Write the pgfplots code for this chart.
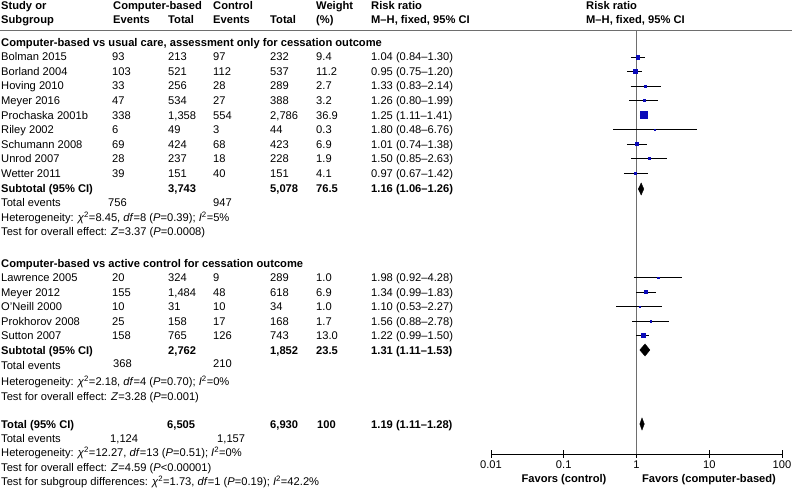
\documentclass[border=0pt]{standalone}
\usepackage{pgfplots}
\pgfplotsset{compat=1.18}
\usepackage{fontspec}
\setmainfont{Liberation Sans}
\definecolor{sqblue}{RGB}{10,10,185}
\definecolor{lgray}{RGB}{110,110,110}
\newcommand\T[3]{\node[anchor=base west,inner sep=0pt] at ({#1*1bp},{(489-#2)*1bp}) {#3};}
\newcommand\B[3]{\node[anchor=base west,inner sep=0pt,font=\fontsize{11.2}{13.5}\selectfont\bfseries] at ({#1*1bp},{(489-#2)*1bp}) {#3};}
\newcommand\het[4]{Heterogeneity: \textit{χ}\textsuperscript{2}=#1, \textit{df}=#2 (\textit{P}=#3); \textit{I}\textsuperscript{2}=#4}
\begin{document}
\begin{tikzpicture}[font=\fontsize{11.2}{13.5}\selectfont]
\path[use as bounding box] (0,0) rectangle (792bp,493bp);
\draw[lgray, line width=0.8pt] (0,463bp) -- (792bp,463bp);
\begin{axis}[at={(491bp,39bp)}, anchor=south west, scale only axis, width=291bp, height=424bp,
 xmode=log, log basis x=10, xmin=0.01, xmax=100, ymin=-454, ymax=-30,
 axis x line*=bottom, axis y line=none, clip=false,
 xtick={0.01,0.1,1,10,100}, xticklabels={0.01,0.1,1,10,100}, xminorticks=false,
 tick align=center, major tick length=7bp,
 tick style={black, line width=0.8pt}, axis line style={black, line width=0.8pt},
 xticklabel style={font=\fontsize{11.2}{13}\selectfont}]
\addplot[lgray, line width=0.9pt] coordinates {(1,-30) (1,-454)};
% CI whiskers
\addplot[black, line width=0.7pt] coordinates {(0.84,-57) (1.30,-57)};
\addplot[black, line width=0.7pt] coordinates {(0.75,-71.5) (1.20,-71.5)};
\addplot[black, line width=0.7pt] coordinates {(0.83,-86) (2.14,-86)};
\addplot[black, line width=0.7pt] coordinates {(0.80,-100.5) (1.99,-100.5)};
\addplot[black, line width=0.7pt] coordinates {(1.11,-115) (1.41,-115)};
\addplot[black, line width=0.7pt] coordinates {(0.48,-129.5) (6.76,-129.5)};
\addplot[black, line width=0.7pt] coordinates {(0.74,-144) (1.38,-144)};
\addplot[black, line width=0.7pt] coordinates {(0.85,-158.5) (2.63,-158.5)};
\addplot[black, line width=0.7pt] coordinates {(0.67,-173) (1.42,-173)};
\addplot[black, line width=0.7pt] coordinates {(0.92,-277.5) (4.28,-277.5)};
\addplot[black, line width=0.7pt] coordinates {(0.99,-292) (1.83,-292)};
\addplot[black, line width=0.7pt] coordinates {(0.53,-306.5) (2.27,-306.5)};
\addplot[black, line width=0.7pt] coordinates {(0.88,-321) (2.78,-321)};
\addplot[black, line width=0.7pt] coordinates {(0.99,-335.5) (1.50,-335.5)};
% squares (weight-scaled)
\addplot[scatter, only marks, mark=square*,
  scatter/use mapped color={draw=sqblue, fill=sqblue},
  visualization depends on={\thisrow{s} \as \msize},
  scatter/@pre marker code/.append style={/tikz/mark size=\msize}]
 table[x=rr, y=y] {
rr y s
1.04 -57 1.75
0.95 -71.5 1.9
1.33 -86 0.95
1.26 -100.5 1.0
1.25 -115 3.5
1.80 -129.5 0.5
1.01 -144 1.5
1.50 -158.5 0.8
0.97 -173 1.15
1.98 -277.5 0.65
1.34 -292 1.5
1.10 -306.5 0.65
1.56 -321 0.75
1.22 -335.5 2.05
};
% diamonds
\addplot[fill=black, draw=black] coordinates {(1.06,-189) (1.16,-183) (1.26,-189) (1.16,-195)} --cycle;
\addplot[fill=black, draw=black] coordinates {(1.11,-350) (1.31,-344) (1.53,-350) (1.31,-356)} --cycle;
\addplot[fill=black, draw=black] coordinates {(1.11,-424) (1.19,-418) (1.28,-424) (1.19,-430)} --cycle;
\end{axis}
% header
\B{1}{5.5}{Study or}\B{1}{20}{Subgroup}
\B{113}{5.5}{Computer-based}\B{113}{20}{Events}\B{168}{20}{Total}
\B{213}{5.5}{Control}\B{213}{20}{Events}\B{270}{20}{Total}
\B{316}{5.5}{Weight}\B{316}{20}{(\%)}
\B{371}{5.5}{Risk ratio}\B{371}{20}{M–H, fixed, 95\% CI}
\B{586}{5.5}{Risk ratio}\B{586}{20}{M–H, fixed, 95\% CI}
% group 1
\B{1}{43}{Computer-based vs usual care, assessment only for cessation outcome}
\T{1}{57}{Bolman 2015}\T{112}{57}{93}\T{168}{57}{213}\T{213}{57}{97}\T{270}{57}{232}\T{316}{57}{9.4}\T{371}{57}{1.04 (0.84–1.30)}
\T{1}{71.5}{Borland 2004}\T{112}{71.5}{103}\T{168}{71.5}{521}\T{213}{71.5}{112}\T{270}{71.5}{537}\T{316}{71.5}{11.2}\T{371}{71.5}{0.95 (0.75–1.20)}
\T{1}{86}{Hoving 2010}\T{112}{86}{33}\T{168}{86}{256}\T{213}{86}{28}\T{270}{86}{289}\T{316}{86}{2.7}\T{371}{86}{1.33 (0.83–2.14)}
\T{1}{100.5}{Meyer 2016}\T{112}{100.5}{47}\T{168}{100.5}{534}\T{213}{100.5}{27}\T{270}{100.5}{388}\T{316}{100.5}{3.2}\T{371}{100.5}{1.26 (0.80–1.99)}
\T{1}{115}{Prochaska 2001b}\T{112}{115}{338}\T{168}{115}{1,358}\T{213}{115}{554}\T{270}{115}{2,786}\T{316}{115}{36.9}\T{371}{115}{1.25 (1.11–1.41)}
\T{1}{129.5}{Riley 2002}\T{112}{129.5}{6}\T{168}{129.5}{49}\T{213}{129.5}{3}\T{270}{129.5}{44}\T{316}{129.5}{0.3}\T{371}{129.5}{1.80 (0.48–6.76)}
\T{1}{144}{Schumann 2008}\T{112}{144}{69}\T{168}{144}{424}\T{213}{144}{68}\T{270}{144}{423}\T{316}{144}{6.9}\T{371}{144}{1.01 (0.74–1.38)}
\T{1}{158.5}{Unrod 2007}\T{112}{158.5}{28}\T{168}{158.5}{237}\T{213}{158.5}{18}\T{270}{158.5}{228}\T{316}{158.5}{1.9}\T{371}{158.5}{1.50 (0.85–2.63)}
\T{1}{173}{Wetter 2011}\T{112}{173}{39}\T{168}{173}{151}\T{213}{173}{40}\T{270}{173}{151}\T{316}{173}{4.1}\T{371}{173}{0.97 (0.67–1.42)}
\B{1}{188}{Subtotal (95\% CI)}\B{168}{188}{3,743}\B{270}{188}{5,078}\B{316}{188}{76.5}\B{371}{188}{1.16 (1.06–1.26)}
\T{1}{202.5}{Total events}\T{108}{202.5}{756}\T{213}{202.5}{947}
\T{1}{217}{\het{8.45}{8}{0.39}{5\%}}
\T{1}{231}{Test for overall effect: \textit{Z}=3.37 (\textit{P}=0.0008)}
% group 2
\B{1}{263}{Computer-based vs active control for cessation outcome}
\T{1}{277.5}{Lawrence 2005}\T{112}{277.5}{20}\T{168}{277.5}{324}\T{213}{277.5}{9}\T{270}{277.5}{289}\T{316}{277.5}{1.0}\T{371}{277.5}{1.98 (0.92–4.28)}
\T{1}{292}{Meyer 2012}\T{112}{292}{155}\T{168}{292}{1,484}\T{213}{292}{48}\T{270}{292}{618}\T{316}{292}{6.9}\T{371}{292}{1.34 (0.99–1.83)}
\T{1}{306.5}{O'Neill 2000}\T{112}{306.5}{10}\T{168}{306.5}{31}\T{213}{306.5}{10}\T{270}{306.5}{34}\T{316}{306.5}{1.0}\T{371}{306.5}{1.10 (0.53–2.27)}
\T{1}{321}{Prokhorov 2008}\T{112}{321}{25}\T{168}{321}{158}\T{213}{321}{17}\T{270}{321}{168}\T{316}{321}{1.7}\T{371}{321}{1.56 (0.88–2.78)}
\T{1}{335.5}{Sutton 2007}\T{112}{335.5}{158}\T{168}{335.5}{765}\T{213}{335.5}{126}\T{270}{335.5}{743}\T{316}{335.5}{13.0}\T{371}{335.5}{1.22 (0.99–1.50)}
\B{1}{350}{Subtotal (95\% CI)}\B{168}{350}{2,762}\B{270}{350}{1,852}\B{316}{350}{23.5}\B{371}{350}{1.31 (1.11–1.53)}
\T{1}{365}{Total events}\T{113}{363}{368}\T{213}{363}{210}
\T{1}{381.5}{\het{2.18}{4}{0.70}{0\%}}
\T{1}{396.5}{Test for overall effect: \textit{Z}=3.28 (\textit{P}=0.001)}
% total
\B{1}{424}{Total (95\% CI)}\B{167}{424}{6,505}\B{270}{424}{6,930}\B{317}{424}{100}\B{371}{424}{1.19 (1.11–1.28)}
\T{1}{438}{Total events}\T{110}{438}{1,124}\T{217}{438}{1,157}
\T{1}{452.5}{\het{12.27}{13}{0.51}{0\%}}
\T{1}{467}{Test for overall effect: \textit{Z}=4.59 (\textit{P}<0.00001)}
\T{1}{481.5}{Test for subgroup differences: \textit{χ}\textsuperscript{2}=1.73, \textit{df}=1 (\textit{P}=0.19); \textit{I}\textsuperscript{2}=42.2\%}
% favors
\node[anchor=base,inner sep=0pt,font=\fontsize{11.2}{13.5}\selectfont\bfseries] at (564bp,11bp) {Favors (control)};
\node[anchor=base,inner sep=0pt,font=\fontsize{11.2}{13.5}\selectfont\bfseries] at (709bp,11bp) {Favors (computer-based)};
\end{tikzpicture}
\end{document}
